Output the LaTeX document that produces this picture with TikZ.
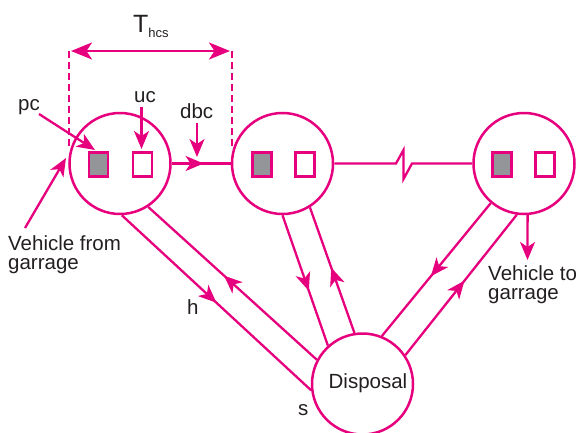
\documentclass[tikz,border=0pt]{standalone}
\usepackage{fontspec}
\setmainfont{Liberation Sans}
\usetikzlibrary{arrows.meta,decorations.markings}
\definecolor{mag}{RGB}{230,0,126}
\definecolor{ink}{RGB}{35,31,32}
\definecolor{fillgray}{RGB}{147,149,152}

\begin{document}
\begin{tikzpicture}[x=1pt,y=-1pt,
  line/.style={mag,line width=2.3pt},
  site/.style={circle,draw=mag,line width=2.5pt,fill=white,minimum size=101pt,inner sep=0pt},
  bin/.style={draw=mag,line width=2.3pt,minimum width=19pt,minimum height=24pt,inner sep=0pt},
  full/.style={bin,fill=fillgray},
  void/.style={bin,fill=white},
  tip/.style={-{Stealth[length=18pt,width=15pt,inset=5pt]}},
  lbl/.style={text=ink,font=\fontsize{20.5}{19}\selectfont,inner sep=0pt},
  mid/.style={postaction={decorate},decoration={markings,
    mark=at position #1 with {\arrow{Stealth[length=18pt,width=15pt,inset=5pt]}}}},
]
\useasboundingbox (0,0) rectangle (578,432);

% collection sites and the disposal site
\node[site] (c1) at (120,163.5) {};
\node[site] (c2) at (282.5,163.5) {};
\node[site] (c3) at (524,163.5) {};
\node[site] (d)  at (362.5,384) {};
\node[lbl] (dtext) at (368,383) {Disposal};

% containers at each site
\node[full] (p1) at (98.5,164.5) {};
\node[void] (u1) at (142.5,164.5) {};
\node[full] (p2) at (262,164.5) {};
\node[void] (u2) at (305,164.5) {};
\node[full] (p3) at (502,164.5) {};
\node[void] (u3) at (545,164.5) {};

% travel between sites
\draw[line,mid=0.54] (c1.east) -- (c2.west);
\coordinate (z1) at (396,163.5);
\coordinate (z2) at (403.5,150);
\coordinate (z3) at (403.5,179);
\coordinate (z4) at (412,163.5);
\draw[line] (c2.east) -- (z1) -- (z2) -- (z3) -- (z4) -- (c3.west);

% haul trips to and from disposal
\draw[line,mid=0.50] (c1.-88) -- (d.187);
\draw[line,mid=0.55] (d.152) -- (c1.-57);
\draw[line,mid=0.58] (c2.-90) -- (d.132);
\draw[line,mid=0.52] (d.99) -- (c2.-58);
\draw[line,mid=0.55] (c3.230) -- (d.68);
\draw[line,mid=0.53] (d.34) -- (c3.262);

% haul cycle time
\coordinate (t1) at (69,51);
\coordinate (b1) at (69,148);
\coordinate (t2) at (232,51);
\coordinate (b2) at (232,148);
\draw[mag,line width=2.8pt,dash pattern=on 6.5pt off 4.5pt] (t1) -- (b1);
\draw[mag,line width=2.8pt,dash pattern=on 6.5pt off 4.5pt] (t2) -- (b2);
\draw[mag,line width=2.3pt,{Stealth[length=21pt,width=17pt,inset=5.5pt]}-{Stealth[length=21pt,width=17pt,inset=5.5pt]}]
  ([xshift=2pt]t1) -- ([xshift=-2pt]t2);
\node[lbl,anchor=base west,font=\fontsize{25}{25}\selectfont] (thcs) at (133,32)
  {T\raisebox{-5pt}{\fontsize{13}{13}\selectfont hcs}};

% labels with pointers
\node[lbl,anchor=base west] (pc) at (18,110) {pc};
\coordinate (pcs) at (39,114);
\coordinate (pce) at (95,150);
\draw[line,tip] (pcs) -- (pce);

\node[lbl,anchor=base west] (uc) at (134,102) {uc};
\coordinate (ucs) at (141.5,107);
\coordinate (uce) at (141.5,149);
\draw[line,tip] (ucs) -- (uce);

\node[lbl,anchor=base west] (dbc) at (180,118) {dbc};
\coordinate (dbs) at (197,123);
\coordinate (dbe) at (197,157);
\draw[line,tip] (dbs) -- (dbe);

\node[lbl,anchor=base west,align=left] (vfrom) at (8,269) {Vehicle from\\garrage};
\coordinate (vfs) at (25,228);
\coordinate (vfe) at (66,158);
\draw[line,tip] (vfs) -- (vfe);

\node[lbl,anchor=base west,align=left] (vto) at (488,299) {Vehicle to\\garrage};
\coordinate (vte) at (527.5,260);
\draw[line,tip] (c3.-86) -- (vte);

\node[lbl,anchor=base west] (h) at (187,314) {h};
\node[lbl,anchor=base west] (s) at (298,415) {s};
\end{tikzpicture}
\end{document}
